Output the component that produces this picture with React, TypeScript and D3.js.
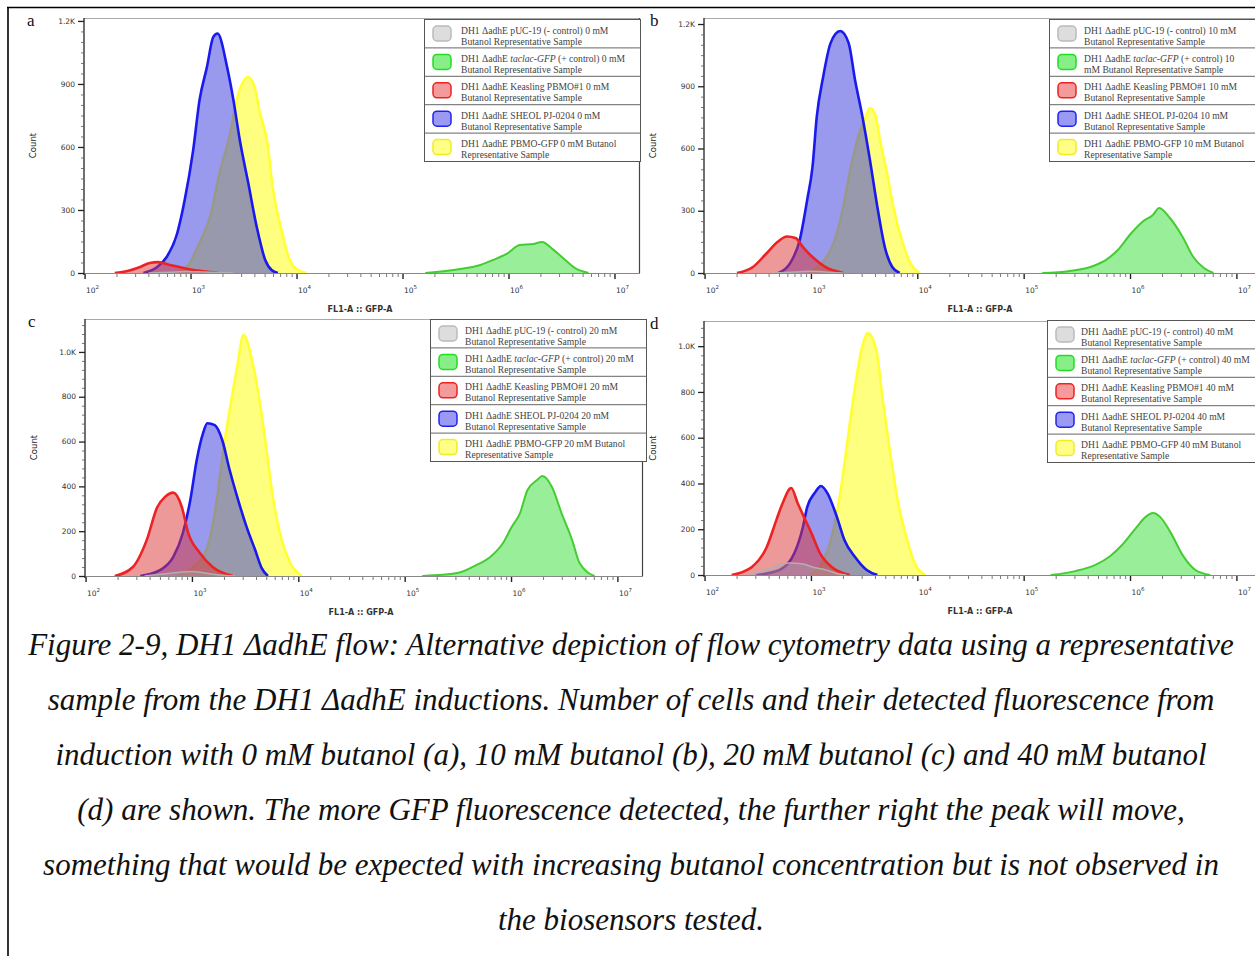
import React, { useRef, useEffect } from "react";
import * as d3 from "d3";

// each point: [log10 FL1-A, count]
type Pt = [number, number];

const aGray: Pt[] = [[2.6, 0], [2.8, 4], [2.95, 7], [3.1, 5], [3.25, 2], [3.4, 0]];
const aGreen: Pt[] = [[5.21, 0], [5.54, 19], [5.73, 38], [5.85, 62], [5.99, 95], [6.1, 133], [6.23, 138], [6.31, 148], [6.42, 110], [6.53, 62], [6.62, 24], [6.75, 0]];
const aRed: Pt[] = [[2.28, 0], [2.4, 10], [2.52, 29], [2.61, 48], [2.69, 52], [2.8, 38], [2.93, 24], [3.08, 10], [3.26, 0]];
const aBlue: Pt[] = [[2.55, 0], [2.68, 29], [2.77, 76], [2.87, 190], [2.94, 347], [3.02, 585], [3.08, 823], [3.15, 981], [3.21, 1124], [3.25, 1140], [3.34, 981], [3.4, 823], [3.46, 633], [3.54, 428], [3.62, 219], [3.7, 62], [3.76, 14], [3.82, 0]];
const aYellow: Pt[] = [[2.83, 0], [2.96, 29], [3.08, 143], [3.18, 267], [3.27, 476], [3.37, 666], [3.43, 823], [3.49, 909], [3.54, 933], [3.6, 885], [3.65, 761], [3.72, 619], [3.77, 409], [3.86, 190], [3.93, 62], [4.01, 14], [4.09, 0]];

const bGray: Pt[] = [[2.65, 0], [2.85, 5], [3.0, 8], [3.15, 4], [3.3, 0]];
const bGreen: Pt[] = [[5.17, 0], [5.43, 10], [5.65, 34], [5.78, 67], [5.88, 111], [6.0, 188], [6.11, 246], [6.21, 280], [6.27, 313], [6.37, 265], [6.49, 174], [6.59, 77], [6.69, 24], [6.78, 0]];
const bRed: Pt[] = [[2.3, 0], [2.45, 29], [2.58, 96], [2.68, 149], [2.77, 176], [2.85, 169], [2.92, 125], [3.02, 72], [3.13, 29], [3.3, 0]];
const bBlue: Pt[] = [[2.69, 0], [2.8, 48], [2.89, 159], [2.96, 352], [3.01, 511], [3.05, 752], [3.11, 945], [3.18, 1108], [3.27, 1166], [3.35, 1108], [3.41, 930], [3.48, 752], [3.55, 545], [3.62, 318], [3.69, 125], [3.76, 29], [3.83, 0]];
const bYellow: Pt[] = [[2.96, 0], [3.1, 48], [3.21, 145], [3.3, 318], [3.36, 482], [3.44, 656], [3.51, 752], [3.55, 795], [3.6, 762], [3.65, 627], [3.71, 482], [3.77, 318], [3.85, 159], [3.93, 48], [4.02, 0]];

const cGray: Pt[] = [[2.55, 0], [2.75, 10], [2.9, 18], [3.0, 20], [3.1, 14], [3.25, 4], [3.4, 0]];
const cGreen: Pt[] = [[5.16, 0], [5.49, 13], [5.67, 49], [5.8, 85], [5.92, 147], [6.0, 218], [6.08, 281], [6.15, 384], [6.24, 428], [6.29, 446], [6.38, 397], [6.47, 281], [6.57, 160], [6.64, 58], [6.78, 0]];
const cRed: Pt[] = [[2.27, 0], [2.44, 40], [2.57, 160], [2.67, 308], [2.74, 352], [2.82, 372], [2.9, 308], [2.96, 192], [3.07, 103], [3.19, 40], [3.38, 0]];
const cBlue: Pt[] = [[2.51, 0], [2.7, 27], [2.82, 85], [2.91, 192], [2.98, 339], [3.04, 517], [3.1, 638], [3.14, 682], [3.21, 673], [3.28, 607], [3.35, 473], [3.43, 339], [3.51, 218], [3.59, 116], [3.65, 36], [3.71, 0]];
const cYellow: Pt[] = [[2.86, 0], [3.01, 40], [3.14, 129], [3.23, 339], [3.29, 562], [3.35, 740], [3.42, 932], [3.48, 1075], [3.56, 963], [3.64, 753], [3.7, 548], [3.76, 339], [3.84, 160], [3.92, 58], [4.03, 0]];

const dGray: Pt[] = [[2.42, 0], [2.57, 22], [2.7, 44], [2.79, 52], [2.92, 48], [3.01, 35], [3.14, 22], [3.26, 4], [3.33, 0]];
const dGreen: Pt[] = [[5.25, 0], [5.48, 17], [5.67, 44], [5.81, 83], [5.92, 131], [6.05, 205], [6.14, 253], [6.21, 271], [6.28, 253], [6.38, 183], [6.49, 87], [6.61, 22], [6.75, 0]];
const dRed: Pt[] = [[2.25, 0], [2.44, 35], [2.58, 122], [2.67, 240], [2.73, 315], [2.81, 380], [2.87, 315], [2.93, 253], [3.0, 183], [3.08, 96], [3.19, 35], [3.36, 0]];
const dBlue: Pt[] = [[2.48, 0], [2.7, 22], [2.84, 96], [2.92, 210], [2.96, 297], [3.03, 358], [3.09, 389], [3.15, 358], [3.24, 253], [3.31, 153], [3.41, 79], [3.52, 22], [3.62, 0]];
const dYellow: Pt[] = [[2.98, 0], [3.1, 52], [3.2, 183], [3.28, 385], [3.34, 590], [3.41, 822], [3.47, 983], [3.53, 1057], [3.61, 983], [3.67, 765], [3.74, 533], [3.81, 328], [3.9, 153], [3.97, 52], [4.07, 0]];

// legend order: gray, green, red, blue, yellow
const strokeColors = ["#b0b0b0", "#46cc33", "#ee2222", "#1a1aee", "#ffff33"];
const fillColors = ["#aaaaaa", "#33dd33", "#dd3333", "#3333dd", "#ffff00"];
const swatchFill = ["#dddddd", "#88ee88", "#f49a9a", "#9a9af4", "#ffff88"];
const swatchStroke = ["#bbbbbb", "#22dd22", "#ee2222", "#2222ee", "#eeee22"];

const concentrations = ["0", "10", "20", "40"];
const panelLetters = ["a", "b", "c", "d"];
const yTicksHigh = [0, 300, 600, 900, 1200];
const yLabelsHigh = ["0", "300", "600", "900", "1.2K"];
const yTicksLow = [0, 200, 400, 600, 800, 1000];
const yLabelsLow = ["0", "200", "400", "600", "800", "1.0K"];
const decades = [2, 3, 4, 5, 6, 7];

const captionLines = [
  "Figure 2-9, DH1 ΔadhE flow: Alternative depiction of flow cytometry data using a representative",
  "sample from the DH1 ΔadhE inductions. Number of cells and their detected fluorescence from",
  "induction with 0 mM butanol (a), 10 mM butanol (b), 20 mM butanol (c) and 40 mM butanol",
  "(d) are shown. The more GFP fluorescence detected, the further right the peak will move,",
  "something that would be expected with increasing butanol concentration but is not observed in",
  "the biosensors tested.",
];

type Seg = { t: string; i?: boolean };

function legendRows(c: string, splitGreen: boolean): Seg[][][] {
  return [
    [[{ t: `DH1 ΔadhE pUC-19 (- control) ${c} mM` }], [{ t: "Butanol Representative Sample" }]],
    splitGreen
      ? [[{ t: "DH1 ΔadhE " }, { t: "taclac-GFP", i: true }, { t: ` (+ control) ${c}` }], [{ t: "mM Butanol Representative Sample" }]]
      : [[{ t: "DH1 ΔadhE " }, { t: "taclac-GFP", i: true }, { t: ` (+ control) ${c} mM` }], [{ t: "Butanol Representative Sample" }]],
    [[{ t: `DH1 ΔadhE Keasling PBMO#1 ${c} mM` }], [{ t: "Butanol Representative Sample" }]],
    [[{ t: `DH1 ΔadhE SHEOL PJ-0204 ${c} mM` }], [{ t: "Butanol Representative Sample" }]],
    [[{ t: `DH1 ΔadhE PBMO-GFP ${c} mM Butanol` }], [{ t: "Representative Sample" }]],
  ];
}

interface Panel {
  series: Pt[][];
  left: number;
  right: number;
  top: number;
  bottom: number;
  yMax: number;
  yTicks: number[];
  yLabels: string[];
  yMinorStep: number;
  legendX: number;
  legendY: number;
  textX: number;
  splitGreen: boolean;
}

const panels: Panel[] = [
  { series: [aGray, aGreen, aRed, aBlue, aYellow], left: 84, right: 640, top: 18, bottom: 273, yMax: 1214, yTicks: yTicksHigh, yLabels: yLabelsHigh, yMinorStep: 50, legendX: 424, legendY: 19, textX: 37, splitGreen: false },
  { series: [bGray, bGreen, bRed, bBlue, bYellow], left: 704, right: 1262, top: 18, bottom: 273, yMax: 1229, yTicks: yTicksHigh, yLabels: yLabelsHigh, yMinorStep: 50, legendX: 1049, legendY: 19, textX: 35, splitGreen: true },
  { series: [cGray, cGreen, cRed, cBlue, cYellow], left: 85, right: 643, top: 319, bottom: 576, yMax: 1147, yTicks: yTicksLow, yLabels: yLabelsLow, yMinorStep: 40, legendX: 430, legendY: 319, textX: 35, splitGreen: false },
  { series: [dGray, dGreen, dRed, dBlue, dYellow], left: 704, right: 1262, top: 321, bottom: 575, yMax: 1110, yTicks: yTicksLow, yLabels: yLabelsLow, yMinorStep: 40, legendX: 1047, legendY: 320, textX: 34, splitGreen: false },
];

const App: React.FC = () => {
  const svgRef = useRef<SVGSVGElement | null>(null);

  useEffect(() => {
    const svg = d3.select(svgRef.current);
    svg.selectAll("*").remove();

    // outer figure border (top + left)
    svg.append("line").attr("x1", 7).attr("x2", 1255).attr("y1", 7.5).attr("y2", 7.5).attr("stroke", "#000").attr("stroke-width", 1.6);
    svg.append("line").attr("x1", 8).attr("x2", 8).attr("y1", 7).attr("y2", 956).attr("stroke", "#000").attr("stroke-width", 1.6);

    const axisFont = "'DejaVu Sans', Verdana, sans-serif";

    panels.forEach((p, pi) => {
      const g = svg.append("g");
      const x = d3.scaleLog().domain([10 ** 1.99, 10 ** 7.236]).range([p.left, p.right]);
      const y = d3.scaleLinear().domain([0, p.yMax]).range([p.bottom, p.top]);

      // panel letter
      g.append("text")
        .attr("x", pi % 2 === 0 ? p.left - 57 : p.left - 54)
        .attr("y", p.top + 8)
        .attr("font-family", "'Liberation Serif', 'Times New Roman', serif")
        .attr("font-size", 17)
        .attr("fill", "#111")
        .text(panelLetters[pi]);

      const clipId = `clip-${pi}`;
      g.append("clipPath").attr("id", clipId)
        .append("rect").attr("x", p.left).attr("y", p.top).attr("width", p.right - p.left).attr("height", p.bottom - p.top + 1);

      // histograms, drawn bottom-up: yellow, blue, red, green, gray
      const area = d3.area<Pt>()
        .x((d) => x(10 ** d[0]))
        .y0(y(0))
        .y1((d) => y(d[1]))
        .curve(d3.curveMonotoneX);
      const line = d3.line<Pt>()
        .x((d) => x(10 ** d[0]))
        .y((d) => y(d[1]))
        .curve(d3.curveMonotoneX);

      const plot = g.append("g").attr("clip-path", `url(#${clipId})`);
      [4, 3, 2, 1, 0].forEach((si) => {
        const data = p.series[si];
        plot.append("path").attr("d", area(data)!).attr("fill", fillColors[si]).attr("fill-opacity", si === 0 ? 0.35 : 0.5);
        plot.append("path").attr("d", line(data)!).attr("fill", "none").attr("stroke", strokeColors[si])
          .attr("stroke-width", si === 0 ? 1.5 : si === 1 ? 2 : 2.6).attr("stroke-linejoin", "round");
      });

      // frame
      g.append("line").attr("x1", p.left).attr("x2", p.right).attr("y1", p.top + 0.5).attr("y2", p.top + 0.5).attr("stroke", "#aaa");
      g.append("line").attr("x1", p.right - 0.5).attr("x2", p.right - 0.5).attr("y1", p.top).attr("y2", p.bottom).attr("stroke", "#444").attr("stroke-width", 1.2);
      g.append("line").attr("x1", p.left).attr("x2", p.right).attr("y1", p.bottom + 0.5).attr("y2", p.bottom + 0.5).attr("stroke", "#888");
      g.append("line").attr("x1", p.left).attr("x2", p.left).attr("y1", p.top).attr("y2", p.bottom + 2).attr("stroke", "#333").attr("stroke-width", 1.4);

      // y ticks
      const minor = d3.range(0, p.yMax, p.yMinorStep).filter((v) => !p.yTicks.includes(v));
      g.selectAll(".ymin").data(minor).join("line")
        .attr("x1", p.left - 3).attr("x2", p.left).attr("y1", (d) => y(d) + 0.5).attr("y2", (d) => y(d) + 0.5)
        .attr("stroke", "#555").attr("stroke-width", 0.8);
      g.selectAll(".ymaj").data(p.yTicks).join("line")
        .attr("x1", p.left - 6).attr("x2", p.left).attr("y1", (d) => y(d) + 0.5).attr("y2", (d) => y(d) + 0.5)
        .attr("stroke", "#222").attr("stroke-width", 1.3);
      g.selectAll(".ylab").data(p.yTicks).join("text")
        .attr("x", p.left - 9).attr("y", (d) => y(d)).attr("dy", "0.35em")
        .attr("text-anchor", "end").attr("font-family", axisFont).attr("font-size", 7.5).attr("fill", "#333")
        .text((d, i) => p.yLabels[i]);

      // x ticks
      const xMinor: number[] = [];
      decades.forEach((e) => {
        for (let k = 2; k <= 9; k++) {
          const v = k * 10 ** e;
          if (v < x.domain()[1]) xMinor.push(v);
        }
      });
      g.selectAll(".xmin").data(xMinor).join("line")
        .attr("x1", (d) => x(d)).attr("x2", (d) => x(d)).attr("y1", p.bottom + 1).attr("y2", p.bottom + 4)
        .attr("stroke", "#555").attr("stroke-width", 0.8);
      g.selectAll(".xmaj").data(decades).join("line")
        .attr("x1", (d) => x(10 ** d)).attr("x2", (d) => x(10 ** d)).attr("y1", p.bottom + 1).attr("y2", p.bottom + 6)
        .attr("stroke", "#222").attr("stroke-width", 1.4);
      const xl = g.selectAll(".xlab").data(decades).join("text")
        .attr("x", (d) => x(10 ** d) + 1).attr("y", p.bottom + 20)
        .attr("font-family", axisFont).attr("font-size", 7.5).attr("fill", "#333");
      xl.append("tspan").text("10");
      xl.append("tspan").attr("dy", -4).attr("font-size", 5.5).text((d) => String(d));

      // axis titles
      g.append("text")
        .attr("transform", `translate(${p.left - 48},${(p.top + p.bottom) / 2}) rotate(-90)`)
        .attr("text-anchor", "middle").attr("font-family", axisFont).attr("font-size", 8.5).attr("fill", "#222")
        .text("Count");
      g.append("text")
        .attr("x", p.left + 276).attr("y", p.bottom + 39)
        .attr("text-anchor", "middle").attr("font-family", axisFont).attr("font-size", 8).attr("font-weight", "bold").attr("fill", "#333")
        .text("FL1-A :: GFP-A");

      // legend
      const rowH = 28.4;
      const lw = 216;
      const lg = g.append("g").attr("transform", `translate(${p.legendX},${p.legendY})`);
      lg.append("rect").attr("x", 0.5).attr("y", 0.5).attr("width", lw).attr("height", rowH * 5).attr("fill", "#fff").attr("stroke", "#555");
      const rows = legendRows(concentrations[pi], p.splitGreen);
      rows.forEach((row, ri) => {
        const ry = ri * rowH;
        if (ri > 0) lg.append("line").attr("x1", 0.5).attr("x2", lw + 0.5).attr("y1", ry + 0.5).attr("y2", ry + 0.5).attr("stroke", "#666");
        lg.append("rect").attr("x", 9).attr("y", ry + 7).attr("width", 18).attr("height", 15).attr("rx", 4)
          .attr("fill", swatchFill[ri]).attr("stroke", swatchStroke[ri]).attr("stroke-width", 1.5);
        row.forEach((segs, li) => {
          const t = lg.append("text").attr("x", p.textX).attr("y", ry + 14.5 + li * 11)
            .attr("font-family", "'Liberation Serif', 'Times New Roman', serif").attr("font-size", 9.6).attr("fill", "#444");
          segs.forEach((s) => {
            t.append("tspan").attr("font-style", s.i ? "italic" : "normal").text(s.t);
          });
        });
      });
    });

    // caption
    svg.append("g").selectAll("text").data(captionLines).join("text")
      .attr("x", 631).attr("y", (d, i) => 655 + i * 55)
      .attr("text-anchor", "middle")
      .attr("font-family", "'Liberation Serif', 'Times New Roman', serif")
      .attr("font-style", "italic").attr("font-size", 31).attr("fill", "#111")
      .text((d) => d);
  }, []);

  return (
    <svg ref={svgRef} width={1255} height={956} style={{ position: "absolute", left: 0, top: 0, display: "block", background: "#fff" }} />
  );
};

export default App;
